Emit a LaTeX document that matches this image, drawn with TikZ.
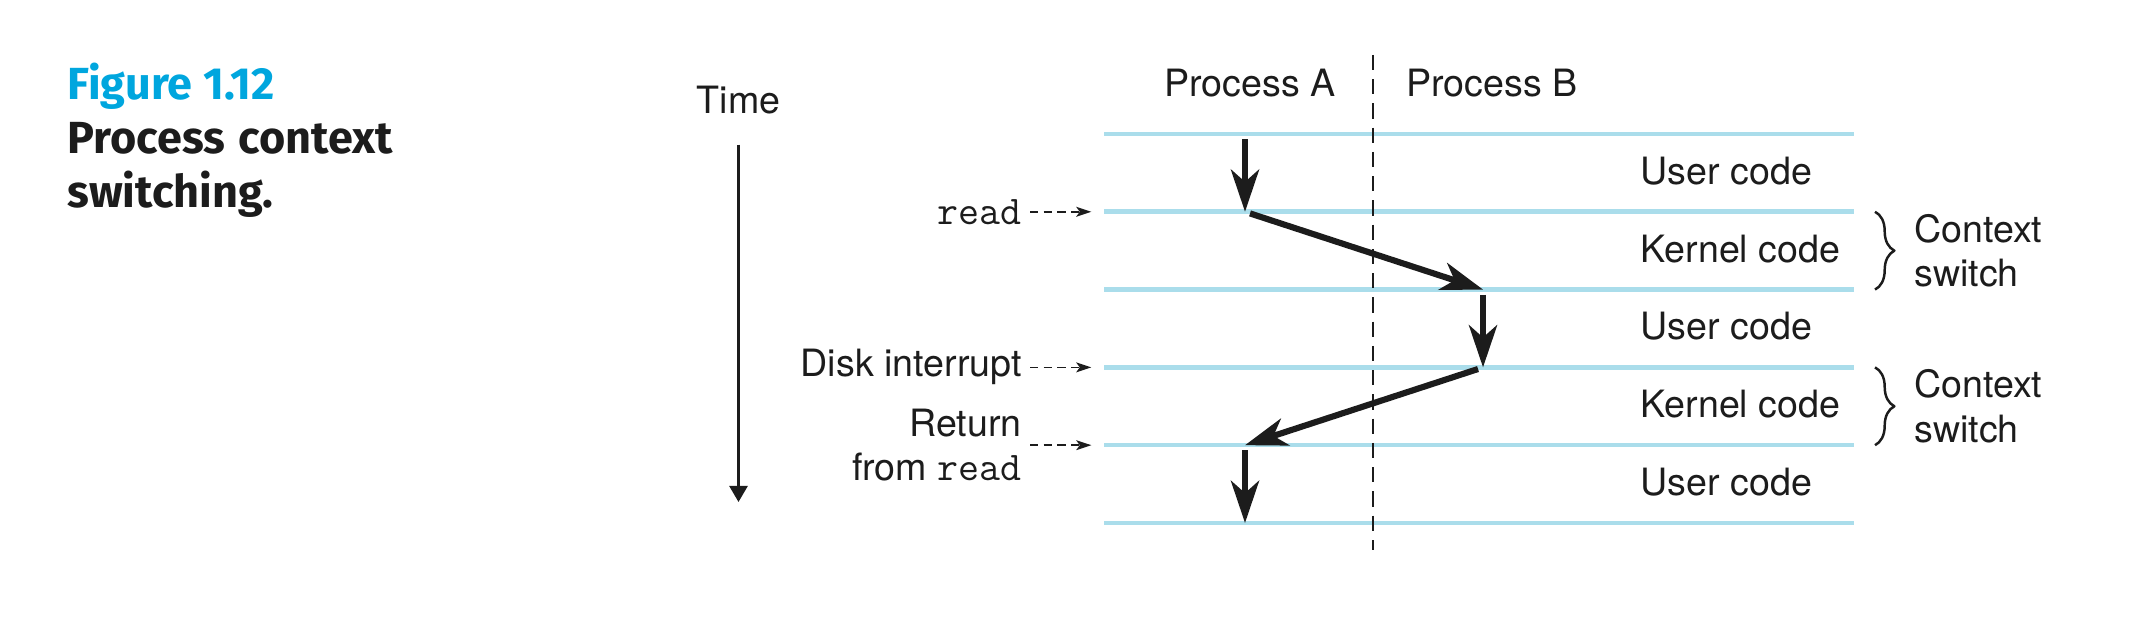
\documentclass[tikz,border=0pt]{standalone}
\usepackage{fontspec}
\setmainfont{TeX Gyre Heros}
\newfontfamily\capfont{Fira Sans}
\usetikzlibrary{arrows.meta,decorations.pathreplacing}
\definecolor{figblue}{RGB}{0,166,222}
\definecolor{rowline}{RGB}{170,221,235}
\definecolor{ink}{RGB}{28,28,28}
\newcommand\code[1]{{\fontsize{11.6}{12}\selectfont\ttfamily #1}}
\begin{document}
\begin{tikzpicture}[line join=round, font=\fontsize{10.7}{12.6}\selectfont, text=ink,
	row/.style={rowline, line width=1.3pt},
	flow/.style={ink, line width=1.75pt, -{Stealth[length=12pt,width=8pt,inset=3.5pt]}},
	hint/.style={ink, line width=0.5pt, dash pattern=on 2.3pt off 1.6pt, shorten >=3.6pt, -{Stealth[length=4.3pt,width=2.8pt,inset=1pt]}},
	lbl/.style={anchor=east, inner sep=2.2pt, align=right, xshift=-0.74cm},
	seg/.style={anchor=base west, inner sep=0pt},
	brace/.style={ink, line width=0.7pt, decorate, decoration={brace, amplitude=5.5pt}},
	ctx/.style={anchor=west, align=left, inner sep=0pt, xshift=0.38cm}]
	\def\xl{11.04} \def\xr{18.54} % ends of the rows
	\def\ytop{4.88} \def\dy{0.778}
	\def\xA{12.45} \def\xB{14.83} % process A, process B
	\useasboundingbox (0,0) rectangle (21.46,6.22);
	% caption
	\node[anchor=north west, align=left, inner sep=0pt, font=\fontsize{12.8}{15.4}\selectfont\capfont\bfseries] (cap) at (0.67,5.60) {\textcolor{figblue}{Figure 1.12}\\\makebox[92.5pt][s]{Process context}\\switching.};
	% rows
	\foreach \k in {0,...,5}{
		\coordinate (L\k) at (\xl,{\ytop-\k*\dy});
		\coordinate (R\k) at (\xr,{\ytop-\k*\dy});
		\coordinate (A\k) at (\xA,{\ytop-\k*\dy});
		\coordinate (B\k) at (\xB,{\ytop-\k*\dy});
		\draw[row] (L\k) -- (R\k);
	}
	\coordinate (dtop) at (13.73,5.67);
	\coordinate (dbot) at (13.73,0.72);
	\draw[ink, line width=0.6pt, dash pattern=on 4.3pt off 2.6pt] (dtop) -- (dbot);
	\node[anchor=base] (pa) at (12.50,5.25) {Process A};
	\node[anchor=base] (pb) at (14.92,5.25) {Process B};
	% time axis
	\node[anchor=base] (time) at (7.385,5.08) {Time};
	\coordinate (tend) at (7.385,1.20);
	\draw[ink, line width=0.65pt, shorten <=5pt, -{Triangle[length=4.6pt,width=5.2pt]}] (time.south) -- (tend);
	% control flow
	\draw[flow, shorten <=1.5pt] (A0) -- (A1);
	\draw[flow, shorten <=1.5pt] (A1) -- (B2);
	\draw[flow, shorten <=1.5pt] (B2) -- (B3);
	\draw[flow, shorten <=1.5pt] (B3) -- (A4);
	\draw[flow, shorten <=1.5pt] (A4) -- (A5);
	% events
	\node[lbl] (rd) at (L1) {\code{read}};
	\node[lbl] (di) at (L3) {Disk interrupt};
	\node[lbl] (rf) at (L4) {Return\\from \code{read}};
	\foreach \n/\k in {rd/1,di/3,rf/4}
		\draw[hint] (\n) -- (L\k);
	% segments
	\foreach \k/\t in {0/User code,1/Kernel code,2/User code,3/Kernel code,4/User code}
		\node[seg] (s\k) at (16.40,{\ytop-(\k+0.5)*\dy-0.115}) {\t};
	\draw[brace] ([xshift=0.21cm]R1) -- ([xshift=0.21cm]R2) node[ctx, midway] (cs1) {Context\\switch};
	\draw[brace] ([xshift=0.21cm]R3) -- ([xshift=0.21cm]R4) node[ctx, midway] (cs2) {Context\\switch};
\end{tikzpicture}
\end{document}
